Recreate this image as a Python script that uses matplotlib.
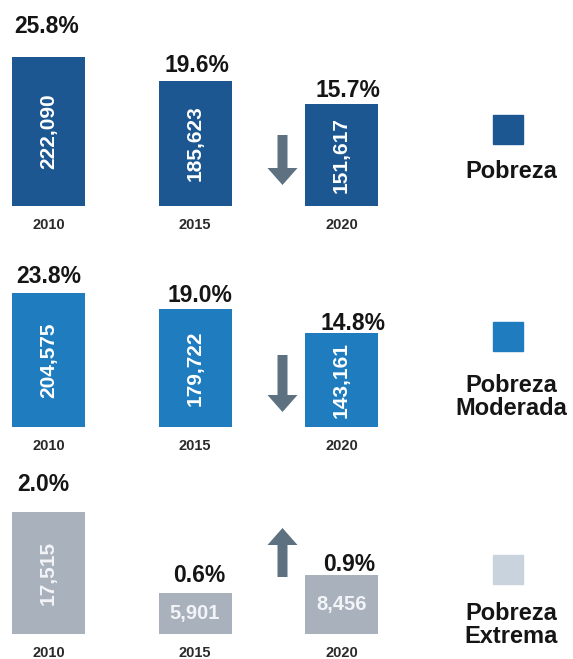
"""Pobreza 2010-2020: three small bar panels with a legend column."""

import matplotlib

matplotlib.use("Agg")

import matplotlib.pyplot as plt
from matplotlib.patches import FancyArrow, Rectangle

plt.rcParams["font.family"] = ["Liberation Sans", "DejaVu Sans"]

W, H = 573, 659

years = ["2010", "2015", "2020"]
pobreza = [222090, 185623, 151617]
pobreza_pct = ["25.8%", "19.6%", "15.7%"]
moderada = [204575, 179722, 143161]
moderada_pct = ["23.8%", "19.0%", "14.8%"]
extrema = [17515, 5901, 8456]
extrema_pct = ["2.0%", "0.6%", "0.9%"]
legend_names = ["Pobreza", "Pobreza\nModerada", "Pobreza\nExtrema"]

colors = ["#1c5791", "#1f7dbf", "#a9b1bd"]
legend_colors = ["#1c5791", "#1f7dbf", "#c9d3de"]

# layout in pixels: (axes top, baseline, value units per pixel)
panels = [(0, 206, 1487), (240, 427, 1525), (460, 634, 144)]
# vertical gap (px) between bar top and centre of the percent label
pct_gap = [[30, 16, 14], [16, 14, 10], [28, 18, 11]]
pct_dx = [[-2, 2, 6], [0, 5, 12], [-5, 4, 8]]
# arrows: (x centre, y tail, y tip)
arrows = [(282.5, 135, 185), (282.5, 355, 412), (282.5, 577, 528)]
legend_sq = [115, 322, 555]
legend_txt = [172, 397, 625]


def fx(px):
    return px / W


def fy(py):
    return 1 - py / H


fig = plt.figure(figsize=(W / 100, H / 100), dpi=100)
fig.patch.set_facecolor("white")

series = [(pobreza, pobreza_pct), (moderada, moderada_pct), (extrema, extrema_pct)]
x0_px, x_step, bar_w = 48.5, 146.5, 73

for i, ((vals, pcts), (top, base, scale)) in enumerate(zip(series, panels)):
    ax = fig.add_axes([0, fy(base), fx(420), (base - top) / H])
    ax.set_xlim(-x0_px / x_step, (420 - x0_px) / x_step)
    ax.set_ylim(0, (base - top) * scale)
    ax.axis("off")
    xs = list(range(len(vals)))
    ax.bar(xs, vals, width=bar_w / x_step, color=colors[i], edgecolor="none")
    for x, v, p, g, dx, yr in zip(xs, vals, pcts, pct_gap[i], pct_dx[i], years):
        ax.annotate(p, (x, v), xytext=(dx * 0.72, g * 0.72), textcoords="offset points",
                    ha="center", va="center", fontsize=16.5, fontweight="bold", color="#151515")
        ax.annotate(yr, (x, 0), xytext=(0, -19 * 0.72), textcoords="offset points",
                    ha="center", va="center", fontsize=10.5, fontweight="bold", color="#2a2a2a",
                    annotation_clip=False)
        tall = v / scale > 80
        ax.text(x, v / 2, f"{v:,}", rotation=90 if tall else 0, ha="center", va="center",
                fontsize=15 if tall else 14.5, fontweight="bold",
                color="white" if i < 2 else "#f2f4f7")

    # trend arrow
    xa, y1, y2 = arrows[i]
    fig.add_artist(FancyArrow(fx(xa), fy(y1), 0, (y1 - y2) / H,
                              width=10 / W, head_width=30 / W, head_length=17 / H,
                              length_includes_head=True, color="#5d7181", ec="none",
                              transform=fig.transFigure))

    # legend column
    fig.add_artist(Rectangle((fx(493), fy(legend_sq[i] + 29)), 30 / W, 29 / H,
                             color=legend_colors[i], transform=fig.transFigure))
    fig.text(fx(511), fy(legend_txt[i]), legend_names[i], ha="center", va="center",
             fontsize=17, fontweight="bold", color="#151515", linespacing=1.05)

fig.savefig("out.png", dpi=100)
